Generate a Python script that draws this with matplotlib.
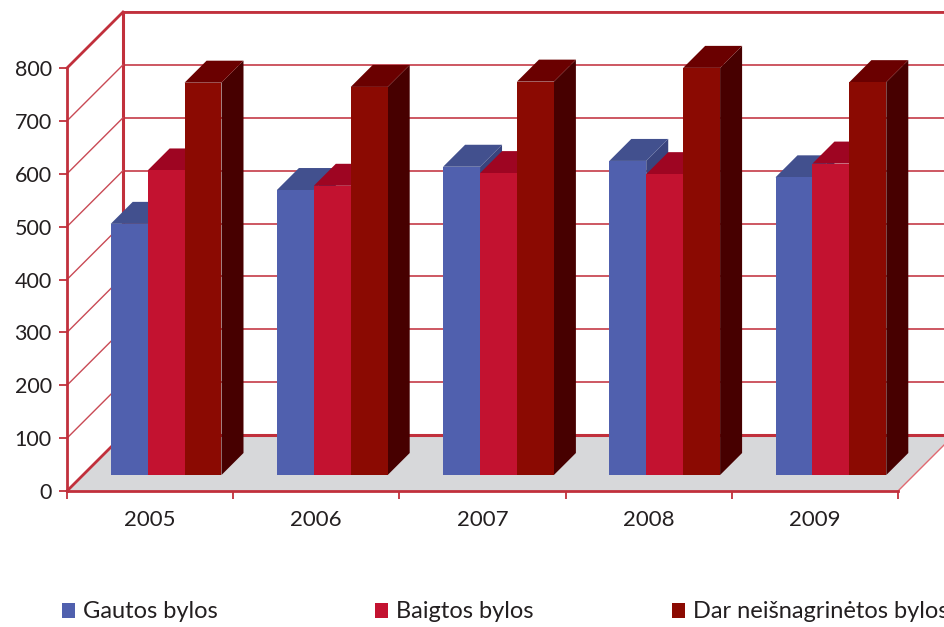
import matplotlib
matplotlib.use('Agg')
import matplotlib.pyplot as plt
from matplotlib.patches import Polygon, Rectangle
import numpy as np

# data
years = ['2005', '2006', '2007', '2008', '2009']
series = ['Gautos bylos', 'Baigtos bylos', 'Dar neišnagrinėtos bylos']
gautos = [475, 539, 583, 594, 563]
baigtos = [576, 547, 571, 569, 589]
neisnagrinetos = [742, 734, 744, 770, 743]
yticks = [0, 100, 200, 300, 400, 500, 600, 700, 800]

front_cols = ['#5060ae', '#c31230', '#8b0a02']
top_cols = ['#42508e', '#9e0522', '#6a0000']
side_cols = ['#39447e', '#7e0218', '#470000']
red = '#c1303c'
grid_red = '#c94a55'

plt.rcParams['font.family'] = ['Lato', 'DejaVu Sans']

fig = plt.figure(figsize=(9.44, 6.27), dpi=100)
ax = fig.add_axes([67 / 944, 136 / 627, 831 / 944, 423 / 627])
ax.set_xlim(0, 5)
ax.set_ylim(0, 800)

# depth of the box in data units (about 56 px each way)
ddx = 56 / 166.2
ddy = 56 / 0.529

# back wall
ax.add_patch(Polygon([(ddx, ddy), (5 + ddx, ddy), (5 + ddx, 800 + ddy), (ddx, 800 + ddy)],
                     closed=True, facecolor='white', edgecolor='none', clip_on=False, zorder=1))
for v in yticks[1:]:
    ax.plot([ddx, 5 + ddx], [v + ddy, v + ddy], color=grid_red, lw=1.3, clip_on=False, zorder=2)
ax.plot([ddx, 5 + ddx], [800 + ddy, 800 + ddy], color=red, lw=2, clip_on=False, zorder=2)
ax.plot([ddx, ddx], [ddy, 800 + ddy], color=red, lw=2.2, clip_on=False, zorder=2)

# left wall
for v in yticks[1:-1]:
    ax.plot([0, ddx], [v, v + ddy], color=grid_red, lw=1, clip_on=False, zorder=2)
ax.plot([0, ddx], [800, 800 + ddy], color=red, lw=2, clip_on=False, zorder=2)

# floor
ax.add_patch(Polygon([(0, 0), (5, 0), (5 + ddx, ddy), (ddx, ddy)], closed=True,
                     facecolor='#d7d8da', edgecolor='none', clip_on=False, zorder=2))
ax.plot([ddx, 5 + ddx], [ddy, ddy], color=red, lw=2.2, clip_on=False, zorder=2)
ax.plot([0, ddx], [0, ddy], color=red, lw=2, clip_on=False, zorder=2)
ax.plot([5, 5 + ddx], [0, ddy], color='#e06870', lw=1, clip_on=False, zorder=2)

# bars
f1 = 16 / 56
f2 = 38 / 56
bw = 0.2222
values = [gautos, baigtos, neisnagrinetos]
x0 = np.arange(len(years)) + 0.1667 + f1 * ddx
z = 3
for i in range(len(years)):
    for j in range(3):
        x = x0[i] + j * bw
        v = values[j][i]
        b = f1 * ddy
        dx = (f2 - f1) * ddx
        dy = (f2 - f1) * ddy
        side = [(x + bw, b), (x + bw + dx, b + dy), (x + bw + dx, b + v + dy), (x + bw, b + v)]
        top = [(x, b + v), (x + bw, b + v), (x + bw + dx, b + v + dy), (x + dx, b + v + dy)]
        ax.add_patch(Polygon(side, closed=True, facecolor=side_cols[j], edgecolor='none',
                             clip_on=False, zorder=z))
        ax.add_patch(Polygon(top, closed=True, facecolor=top_cols[j], edgecolor='none',
                             clip_on=False, zorder=z))
        ax.bar(x, v, bw, bottom=b, align='edge', color=front_cols[j], clip_on=False, zorder=z)
        z += 1

# axes look
for s in ['top', 'right']:
    ax.spines[s].set_visible(False)
for s in ['left', 'bottom']:
    ax.spines[s].set_color(red)
    ax.spines[s].set_linewidth(2)
    ax.spines[s].set_zorder(40)
ax.patch.set_visible(False)
ax.set_yticks(yticks)
ax.set_xticks(range(len(years) + 1))
ax.set_xticklabels([])
ax.set_xticks(np.arange(len(years)) + 0.5, years, minor=True)
ax.tick_params(axis='y', colors=red, length=6, width=1.3, pad=5, labelsize=15.5, labelcolor='#231f20')
ax.tick_params(axis='x', which='major', colors=red, length=6, width=1.3)
ax.tick_params(axis='x', which='minor', length=0, pad=14, labelsize=16, labelcolor='#231f20')

# legend
leg_x = [62, 375, 672]
for k in range(3):
    fig.patches.append(Rectangle((leg_x[k] / 944, 9 / 627), 13 / 944, 15 / 627,
                                 transform=fig.transFigure, facecolor=front_cols[k],
                                 edgecolor='none'))
    fig.text((leg_x[k] + 21) / 944, 15 / 627, series[k], fontsize=17, color='#231f20',
             va='center', ha='left')

fig.savefig('out.png', dpi=100)
